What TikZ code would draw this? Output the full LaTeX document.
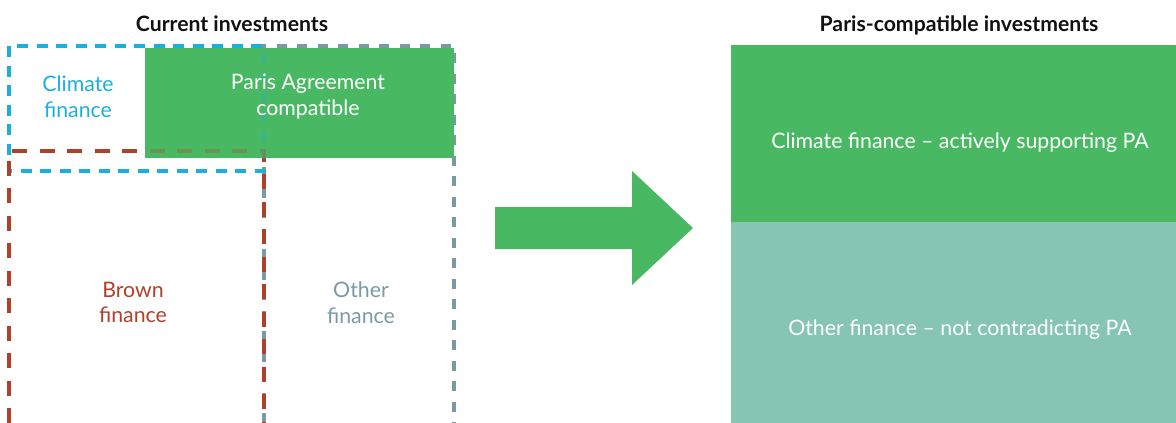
\documentclass[tikz,border=0pt]{standalone}
\usepackage{fontspec}
\setmainfont{Lato}
\definecolor{pagreen}{HTML}{49B862}
\definecolor{pateal}{HTML}{85C5B2}
\definecolor{cfcyan}{HTML}{1CAFDD}
\definecolor{brred}{HTML}{B0402A}
\definecolor{otgrey}{HTML}{7A9AA2}
\definecolor{titleblack}{HTML}{111111}
\tikzset{
  lbl/.style={align=center, font=\fontsize{21.3}{25.5}\selectfont, inner sep=0pt},
  ttl/.style={anchor=base, font=\fontsize{21.2}{24}\selectfont\bfseries, text=titleblack, inner sep=0pt},
  cyandash/.style={draw=cfcyan, line width=3.4pt, dash pattern=on 11pt off 8.5pt},
  reddash/.style={draw=brred, line width=3.4pt, dash pattern=on 15pt off 12.5pt},
  greydash/.style={draw=otgrey, line width=3.4pt, dash pattern=on 10pt off 10.5pt},
}
\begin{document}
\begin{tikzpicture}[x=1pt,y=-1pt]
\useasboundingbox (0,0) rectangle (1176,423);
% titles
\node[ttl] (t1) at (232,31) {Current investments};
\node[ttl] (t2) at (959,31) {Paris-compatible investments};
% dashed outlines
\draw[greydash] (264,423) -- (264,46) -- (454,46) -- (454,423);
\draw[cyandash] (9,46) rectangle (264,171);
\draw[reddash] (9,423) -- (9,151) -- (264,151) -- (264,423);
% green PA box
\fill[pagreen] (145,48) rectangle (454,158);
\begin{scope}[opacity=0.3]
  \clip (145,48) rectangle (454,158);
  \draw[cyandash] (9,46) rectangle (264,171);
  \draw[reddash] (9,423) -- (9,151) -- (264,151) -- (264,423);
\end{scope}
% labels left
\node[lbl, text=cfcyan] (cf) at (78,96.5) {Climate\\finance};
\node[lbl, text=white] (pa) at (308,96.5) {Paris Agreement\\compatible};
\node[lbl, text=brred] (bf) at (133,302.5) {Brown\\finance};
\node[lbl, text=otgrey] (of) at (361,302.5) {Other\\finance};
% arrow
\fill[pagreen] (495,207) -- (632,207) -- (632,171) -- (693,228) -- (632,285) -- (632,249) -- (495,249) -- cycle;
% right panel
\fill[pagreen] (731,45) rectangle (1176,222);
\fill[pateal] (731,222) rectangle (1176,423);
\node[lbl, text=white] (r1) at (960,143) {Climate finance – actively supporting PA};
\node[lbl, text=white] (r2) at (960,330) {Other finance – not contradicting PA};
\end{tikzpicture}
\end{document}
